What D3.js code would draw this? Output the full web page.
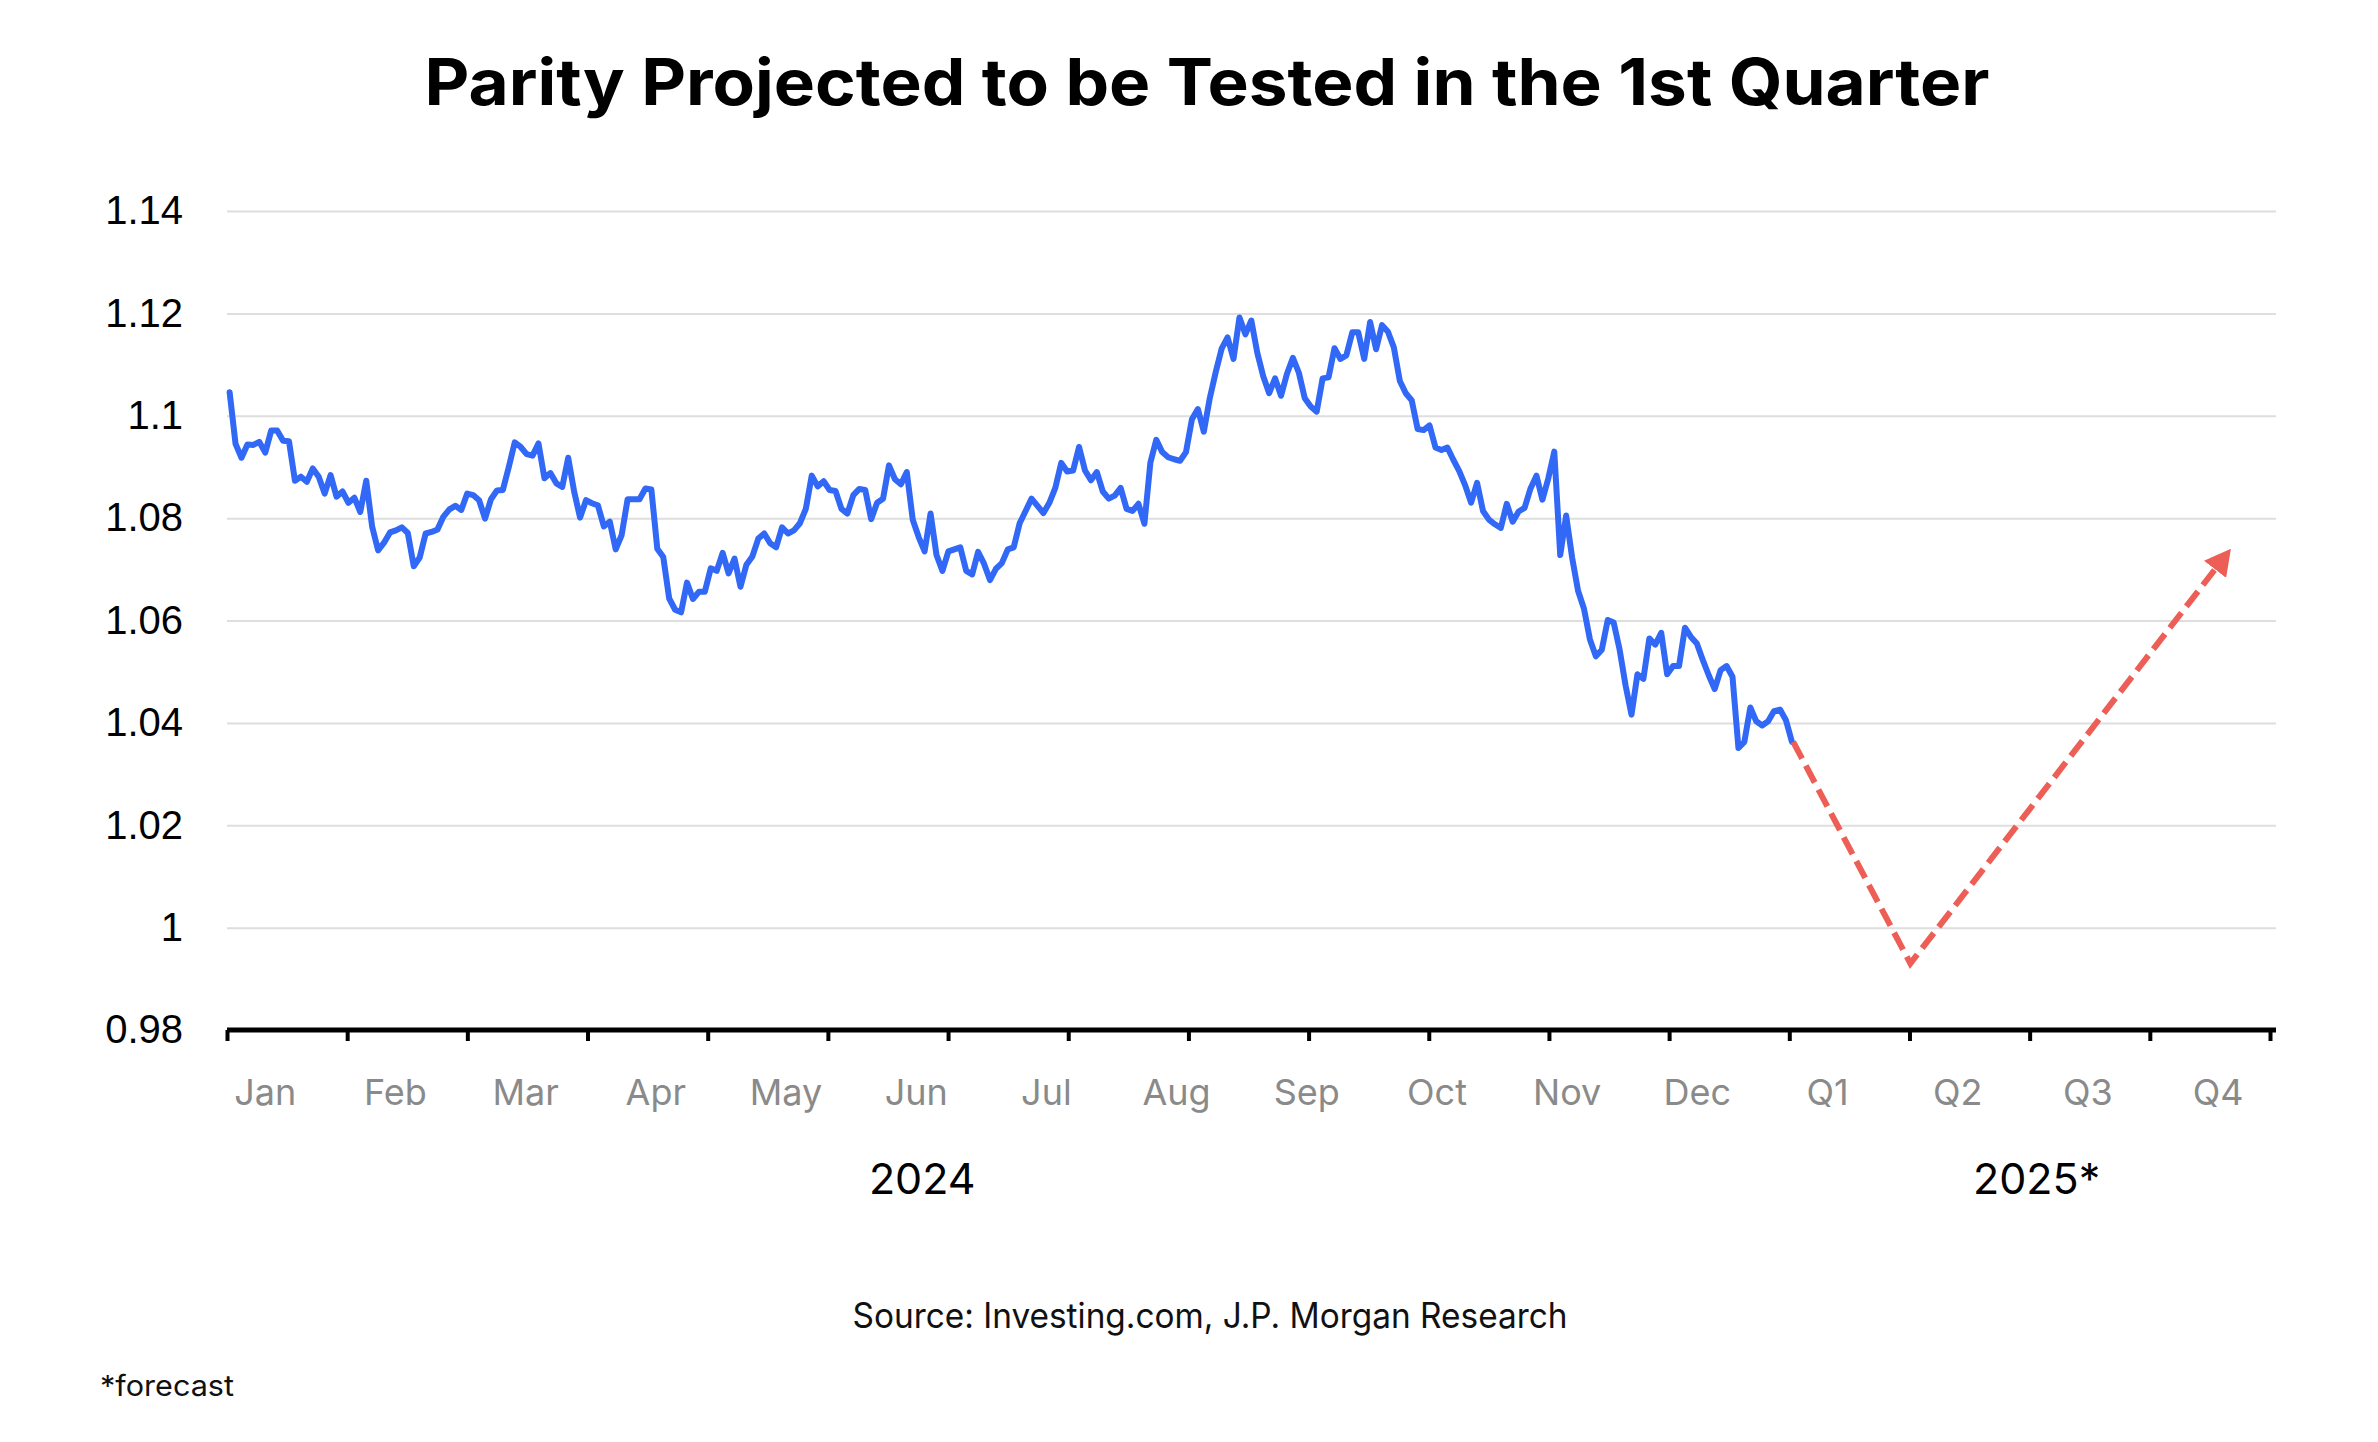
<!DOCTYPE html>
<html>
<head>
<meta charset="utf-8">
<script src="https://cdn.jsdelivr.net/npm/d3@7/dist/d3.min.js"></script>
<style>
  body { margin: 0; background: #fff; }
  svg { display: block; }
</style>
</head>
<body>
<svg id="chart" width="2378" height="1442"></svg>
<script>
'use strict';

// EUR/USD, trading days of 2024
const eurusd2024 = [
  1.1046, 1.0945, 1.0918, 1.0944, 1.0943, 1.0949, 1.0928, 1.0971, 1.0971, 1.0951,
  1.0950, 1.0873, 1.0881, 1.0871, 1.0897, 1.0881, 1.0848, 1.0884, 1.0842, 1.0852,
  1.0830, 1.0840, 1.0812, 1.0873, 1.0783, 1.0737, 1.0752, 1.0772, 1.0776, 1.0782,
  1.0771, 1.0706, 1.0723, 1.0770, 1.0773, 1.0778, 1.0803, 1.0817, 1.0824, 1.0816,
  1.0848, 1.0845, 1.0835, 1.0799, 1.0837, 1.0854, 1.0855, 1.0900, 1.0948, 1.0939,
  1.0925, 1.0922, 1.0946, 1.0878, 1.0888, 1.0868, 1.0861, 1.0918, 1.0852, 1.0801,
  1.0835, 1.0829, 1.0825, 1.0784, 1.0793, 1.0739, 1.0767, 1.0837, 1.0837, 1.0837,
  1.0858, 1.0856, 1.0740, 1.0724, 1.0643, 1.0621, 1.0616, 1.0674, 1.0642, 1.0656,
  1.0656, 1.0702, 1.0697, 1.0732, 1.0692, 1.0721, 1.0666, 1.0709, 1.0725, 1.0760,
  1.0770, 1.0751, 1.0743, 1.0782, 1.0770,
  1.0776, 1.0790, 1.0818, 1.0883, 1.0862, 1.0872, 1.0855, 1.0853, 1.0818, 1.0809,
  1.0845, 1.0857, 1.0855, 1.0798, 1.0830, 1.0838, 1.0903, 1.0876, 1.0866, 1.0890,
  1.0797, 1.0763, 1.0735, 1.0809, 1.0728, 1.0697, 1.0735, 1.0739, 1.0743, 1.0697,
  1.0690, 1.0734, 1.0711, 1.0679, 1.0701, 1.0712, 1.0739, 1.0743, 1.0790, 1.0814,
  1.0838, 1.0824, 1.0810, 1.0830, 1.0859, 1.0908, 1.0891, 1.0893, 1.0939, 1.0893,
  1.0874, 1.0890, 1.0852, 1.0838, 1.0844, 1.0859, 1.0818, 1.0814, 1.0828, 1.0789,
  1.0908, 1.0953, 1.0929, 1.0919, 1.0915, 1.0912, 1.0929, 1.0993, 1.1013, 1.0969,
  1.1034, 1.1085, 1.1131, 1.1153, 1.1111, 1.1192, 1.1159, 1.1186, 1.1123, 1.1077,
  1.1044, 1.1073, 1.1039, 1.1082, 1.1113, 1.1084, 1.1034, 1.1018, 1.1008, 1.1073,
  1.1075, 1.1132, 1.1111, 1.1118, 1.1163, 1.1163, 1.1111, 1.1183, 1.1130, 1.1177,
  1.1164, 1.1133, 1.1068, 1.1044, 1.1030, 1.0974, 1.0972, 1.0981, 1.0938, 1.0933,
  1.0938, 1.0914, 1.0892, 1.0864, 1.0830, 1.0869, 1.0814, 1.0797,
  1.0788, 1.0781, 1.0828, 1.0793, 1.0813, 1.0820, 1.0858, 1.0883, 1.0836, 1.0878,
  1.0930, 1.0728, 1.0805, 1.0723, 1.0658, 1.0623, 1.0563, 1.0530, 1.0543, 1.0601,
  1.0596, 1.0543, 1.0473, 1.0416, 1.0495, 1.0486, 1.0565, 1.0553, 1.0576, 1.0495,
  1.0511, 1.0511, 1.0586, 1.0568, 1.0555, 1.0523, 1.0493, 1.0466, 1.0503, 1.0511,
  1.0490, 1.0351, 1.0363, 1.0430, 1.0403, 1.0395, 1.0403, 1.0423, 1.0426, 1.0405,
  1.0363
];

// forecast path, in months from Jan 2024 (2025 quarters take one slot each)
const forecastAt  = [12.03, 12.93, 15.27];
const forecastVal = [1.0363, 0.993, 1.070];

const periodLabels = ["Jan", "Feb", "Mar", "Apr", "May", "Jun", "Jul", "Aug",
                      "Sep", "Oct", "Nov", "Dec", "Q1", "Q2", "Q3", "Q4"];
const yearLabels = ["2024", "2025*"];
const yTicks = [0.98, 1.00, 1.02, 1.04, 1.06, 1.08, 1.10, 1.12, 1.14];

const TITLE = "Parity Projected to be Tested in the 1st Quarter";
const SOURCE = "Source: Investing.com, J.P. Morgan Research";
const NOTE = "*forecast";

function fitText(sel, target) {
  let w = sel.node().getComputedTextLength();
  if (Math.abs(w - target) / target > 0.02) {
    sel.attr("textLength", target).attr("lengthAdjust", "spacingAndGlyphs");
  }
}

function drawChart(svgName) {
  let svg = d3.select(svgName),
    margin = { top: 211, left: 227, right: 108, bottom: 412 },
    width = +svg.attr("width") - margin.left - margin.right,
    height = +svg.attr("height") - margin.top - margin.bottom,
    axisY = margin.top + height;

  const slots = 17 * 12 / 13;               // 13 tick steps per year
  let x = d3.scaleLinear().domain([0, slots]).range([margin.left, margin.left + width]);
  let y = d3.scaleLinear().domain([yTicks[0], yTicks[yTicks.length - 1]]).range([axisY, margin.top]);

  const sansLabel = "'Liberation Sans', Arial, sans-serif";
  const sansText = "Inter, 'Noto Sans', sans-serif";

  // gridlines
  svg.append("g")
    .attr("transform", `translate(${margin.left},0)`)
    .call(d3.axisLeft(y).tickValues(yTicks.slice(1)).tickSize(-(width + 6)).tickFormat(""))
    .call(g => g.select(".domain").remove())
    .selectAll("line").attr("stroke", "#dedede").attr("stroke-width", 2);

  // y labels
  svg.append("g")
    .attr("transform", `translate(${margin.left},0)`)
    .call(d3.axisLeft(y).tickValues(yTicks).tickSize(0).tickPadding(44)
      .tickFormat(d => String(+d.toFixed(2))))
    .call(g => g.select(".domain").remove())
    .attr("font-family", sansLabel).attr("font-size", 40)
    .selectAll("text").attr("fill", "#000");

  // x axis line and ticks
  svg.append("g")
    .attr("transform", `translate(0,${axisY})`)
    .call(d3.axisBottom(x).tickValues(d3.range(18).map(k => k * 12 / 13))
      .tickSize(11).tickSizeOuter(0).tickFormat(""))
    .call(g => g.select(".domain").attr("stroke", "#000").attr("stroke-width", 5)
      .attr("d", `M${margin.left},0H${margin.left + width + 6}`))
    .call(g => g.selectAll(".tick line").attr("stroke", "#000").attr("stroke-width", 4));

  // month / quarter labels
  const labelOffset = 0.29;
  svg.append("g")
    .attr("transform", `translate(0,${axisY})`)
    .call(d3.axisBottom(x).tickValues(periodLabels.map((d, i) => i + labelOffset))
      .tickSize(0).tickFormat((d, i) => periodLabels[i]))
    .call(g => g.select(".domain").remove())
    .attr("font-family", sansText).attr("font-size", 36)
    .selectAll("text").attr("dy", null).attr("y", 75).attr("fill", "#8a8a8a");

  // year labels
  const yearAt = [5.34, 13.9];
  svg.append("g").selectAll("text").data(yearLabels).join("text")
    .attr("x", (d, i) => x(yearAt[i]))
    .attr("y", axisY + 164)
    .attr("text-anchor", "middle")
    .attr("font-family", sansText).attr("font-size", 43).attr("fill", "#000")
    .text(d => d);

  // 2024 series
  const n = eurusd2024.length;
  let line = d3.line()
    .x((d, i) => x(0.02 + i / (n - 1) * 12))
    .y(d => y(d))
    .curve(d3.curveLinear);

  svg.append("path")
    .datum(eurusd2024)
    .attr("d", line)
    .attr("fill", "none")
    .attr("stroke", "#3268f6")
    .attr("stroke-width", 6)
    .attr("stroke-linejoin", "round")
    .attr("stroke-linecap", "round");

  // forecast arrow
  svg.append("defs").append("marker")
    .attr("id", "arrowHead")
    .attr("viewBox", "0 0 10 10")
    .attr("preserveAspectRatio", "none")
    .attr("markerUnits", "userSpaceOnUse")
    .attr("markerWidth", 26)
    .attr("markerHeight", 28)
    .attr("refX", 0)
    .attr("refY", 5)
    .attr("orient", "auto")
    .append("path")
    .attr("d", "M0,0 L10,5 L0,10 Z")
    .attr("fill", "#ec5e56");

  let fLine = d3.line().x(d => x(d[0])).y(d => y(d[1]));
  svg.append("path")
    .datum(d3.zip(forecastAt, forecastVal))
    .attr("d", fLine)
    .attr("fill", "none")
    .attr("stroke", "#ec5e56")
    .attr("stroke-width", 6)
    .attr("stroke-dasharray", "19,8")
    .attr("marker-end", "url(#arrowHead)");

  // title and footnotes
  let title = svg.append("text")
    .attr("x", 1207).attr("y", 105)
    .attr("text-anchor", "middle")
    .attr("font-family", sansText).attr("font-weight", 700).attr("font-size", 64)
    .attr("fill", "#000")
    .text(TITLE);
  fitText(title, 1565);

  let source = svg.append("text")
    .attr("x", 1210).attr("y", 1328)
    .attr("text-anchor", "middle")
    .attr("font-family", sansText).attr("font-size", 35)
    .attr("fill", "#111")
    .text(SOURCE);
  fitText(source, 715);

  let note = svg.append("text")
    .attr("x", 100).attr("y", 1396)
    .attr("font-family", sansText).attr("font-size", 29)
    .attr("fill", "#111")
    .text(NOTE);
  fitText(note, 134);
}

drawChart("#chart");
</script>
</body>
</html>
